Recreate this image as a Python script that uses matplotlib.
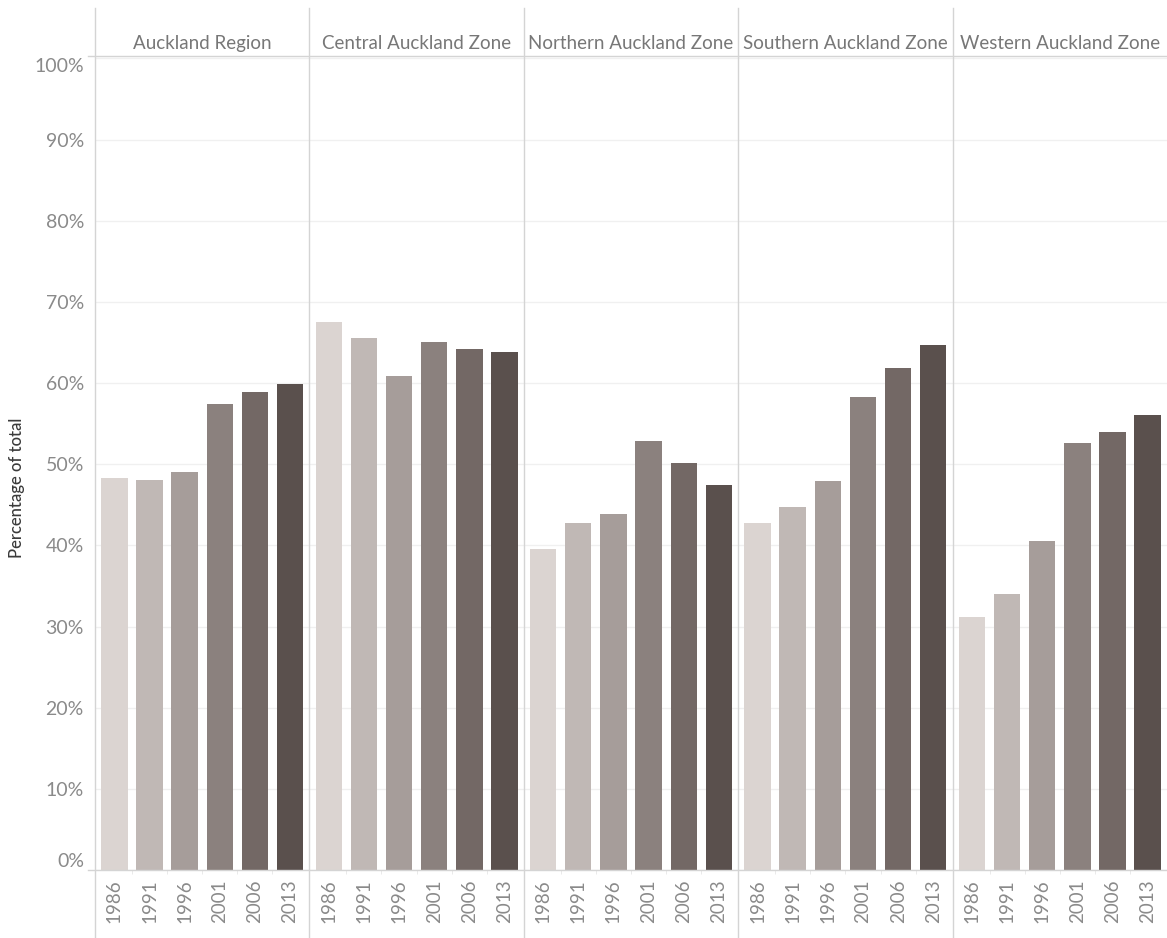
import numpy as np
import matplotlib
matplotlib.use("Agg")
import matplotlib.pyplot as plt
from matplotlib.lines import Line2D

# --- data ---------------------------------------------------------
zones = ["Auckland Region", "Central Auckland Zone", "Northern Auckland Zone",
         "Southern Auckland Zone", "Western Auckland Zone"]
years = ["1986", "1991", "1996", "2001", "2006", "2013"]

auckland = [48.3, 48.0, 49.1, 57.4, 58.9, 59.9]
central = [67.5, 65.6, 60.9, 65.0, 64.2, 63.8]
northern = [39.6, 42.7, 43.9, 52.8, 50.2, 47.4]
southern = [42.8, 44.7, 47.9, 58.3, 61.8, 64.7]
western = [31.2, 34.0, 40.5, 52.6, 54.0, 56.1]
values = [auckland, central, northern, southern, western]

year_colors = ["#dbd4d1", "#c0b8b5", "#a69d9a", "#8b817e", "#736865", "#5a504d"]
y_ticks = list(range(0, 101, 10))

# --- layout (pixels) ----------------------------------------------
W, H = 1167, 938
left_px, top_px, bottom_px = 95, 56, 870
panel_w = (W - left_px) / len(zones)

plt.rcParams["font.family"] = ["Lato", "DejaVu Sans"]
fig = plt.figure(figsize=(W / 100, H / 100), dpi=100)

line_col = "#d4d4d4"
text_col = "#8a8a8a"

for i, (zone, vals) in enumerate(zip(zones, values)):
    x0 = left_px + i * panel_w
    ax = fig.add_axes([x0 / W, 1 - bottom_px / H, panel_w / W,
                       (bottom_px - top_px) / H])
    x = np.arange(len(years))
    ax.bar(x, vals, width=0.75, color=year_colors, zorder=2)
    ax.set_xlim(-0.55, len(years) - 0.45)
    ax.set_ylim(0, 100.3)
    ax.set_yticks(y_ticks)
    ax.yaxis.grid(True, color="#f0f0f0", lw=1, zorder=0)
    for s in ax.spines.values():
        s.set_visible(False)
    ax.set_xticks(x)
    ax.set_xticklabels(years, rotation=90, color=text_col, fontsize=13.5)
    ax.set_xticks(x[:-1] + 0.5, minor=True)
    ax.tick_params(axis="x", which="major", length=0, pad=7)
    ax.tick_params(axis="x", which="minor", length=3, color="#e6e6e6")
    ax.tick_params(axis="y", length=0)
    if i == 0:
        ax.set_yticklabels([f"{t}%" for t in y_ticks], color=text_col,
                           fontsize=14)
        ax.tick_params(axis="y", pad=8)
        labs = ax.get_yticklabels()
        labs[0].set_va("bottom")
        labs[-1].set_va("top")
        ax.set_ylabel("Percentage of total", color="#3a3a3a", fontsize=12,
                      fontweight="medium")
        ax.yaxis.set_label_coords((25 - left_px) / panel_w, 0.47)
    else:
        ax.set_yticklabels([])
    ax.text(0.5, 1 + 13 / (bottom_px - top_px), zone, transform=ax.transAxes,
            ha="center", va="center", color="#777777", fontsize=13.5)

# panel separators and header / baseline rules
for i in range(len(zones)):
    xf = (left_px + i * panel_w) / W
    fig.add_artist(Line2D([xf, xf], [1 - 8 / H, 0], color=line_col, lw=1))
for ypx in (top_px, bottom_px):
    yf = 1 - ypx / H
    fig.add_artist(Line2D([88 / W, 1], [yf, yf], color=line_col, lw=1))

fig.savefig("out.png", dpi=100)
